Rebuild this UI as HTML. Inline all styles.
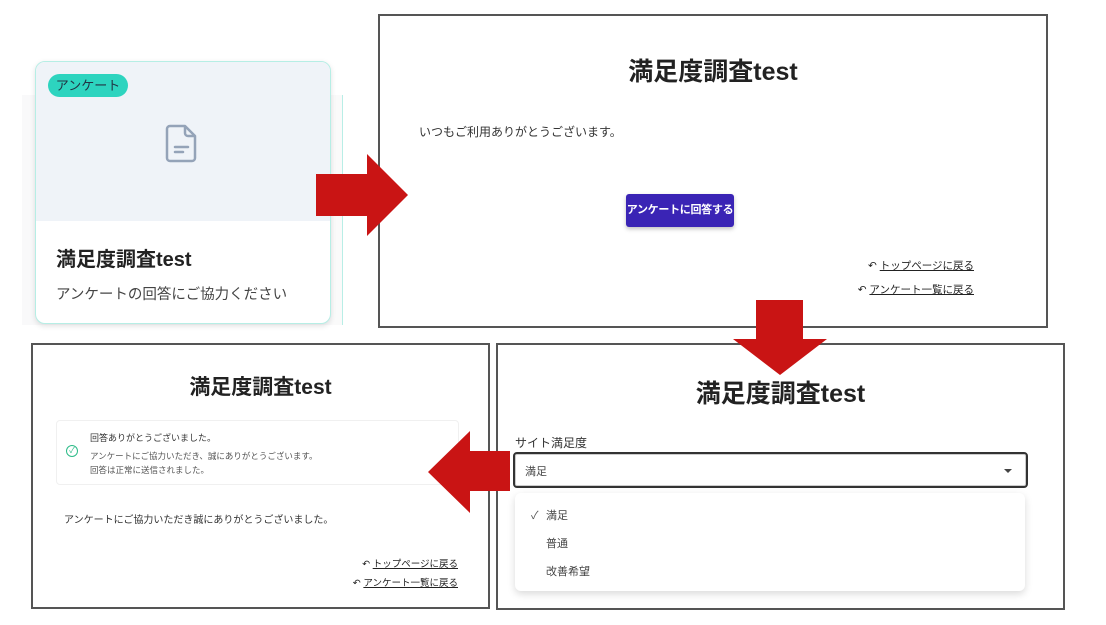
<!DOCTYPE html>
<html><head><meta charset="utf-8"><style>
body{margin:0;width:1106px;height:625px;background:#fff;position:relative;overflow:hidden;font-family:"Liberation Sans","Noto Sans CJK JP",sans-serif;color:#222}
.a{position:absolute}
.box{position:absolute;border:2px solid #555;background:#fff;box-sizing:border-box}
.lnk{position:absolute;font-size:11px;color:#222;white-space:nowrap}
.lnk u{text-decoration:underline}
</style></head><body>
<div class="a" style="left:22px;top:95px;width:321px;height:230px;background:#f9f9fa"></div>
<div class="a" style="left:332px;top:95px;width:10px;height:230px;background:#fafafa;border-right:1px solid #b8eee6"></div>
<div class="a" style="left:35px;top:61px;width:294px;height:261px;border:1px solid #b6eee5;border-radius:10px;background:#fff;overflow:hidden;box-shadow:0 2px 6px rgba(0,0,0,.12)">
  <div class="a" style="left:0;top:0;width:294px;height:159px;background:#eff3f8"></div>
  <div class="a" style="left:12px;top:12px;width:80px;height:23px;border-radius:12px;background:#2dd4bf;font-size:13px;line-height:23px;text-align:center;color:#234">アンケート</div>
  <svg class="a" style="left:128px;top:60px" width="38" height="42" viewBox="0 0 38 42"><path d="M6 4h15l10 10v22a3 3 0 0 1-3 3H6a3 3 0 0 1-3-3V7a3 3 0 0 1 3-3z" fill="none" stroke="#94a3b8" stroke-width="2.5" stroke-linejoin="round"/><path d="M21 4v7a3 3 0 0 0 3 3h7" fill="none" stroke="#94a3b8" stroke-width="2.5"/><path d="M11 25h13M11 30h8" stroke="#94a3b8" stroke-width="2.5" stroke-linecap="round"/></svg>
  <div class="a" style="left:20px;top:181px;font-size:20px;font-weight:bold;color:#222">満足度調査test</div>
  <div class="a" style="left:20px;top:221px;font-size:14.5px;color:#444">アンケートの回答にご協力ください</div>
</div>

<div class="box" style="left:378px;top:14px;width:670px;height:314px">
  <div class="a" style="left:0;top:36px;width:666px;text-align:center;font-size:25px;font-weight:bold;color:#222">満足度調査test</div>
  <div class="a" style="left:39px;top:107px;font-size:12px;color:#333">いつもご利用ありがとうございます。</div>
  <div class="a" style="left:246px;top:178px;width:108px;height:33px;background:#3a24b5;border-radius:3px;color:#fff;font-size:11px;letter-spacing:-0.3px;font-weight:bold;line-height:33px;text-align:center;white-space:nowrap;box-shadow:0 2px 4px rgba(0,0,0,.25)">アンケートに回答する</div>
  <div class="lnk" style="right:72px;top:242px;font-size:10.5px">↶ <u>トップページに戻る</u></div>
  <div class="lnk" style="right:72px;top:266px;font-size:10.5px">↶ <u>アンケート一覧に戻る</u></div>
</div>

<div class="box" style="left:31px;top:343px;width:459px;height:266px">
  <div class="a" style="left:0;top:26px;width:455px;text-align:center;font-size:21px;font-weight:bold;color:#222">満足度調査test</div>
  <div class="a" style="left:23px;top:75px;width:401px;height:63px;border:1px solid #f0f0f0;border-radius:4px"></div>
  <div class="a" style="left:33px;top:100px;width:10px;height:10px;border:1.5px solid #2dbb88;border-radius:50%;font-size:8px;line-height:10px;text-align:center;color:#2dbb88">✓</div>
  <div class="a" style="left:57px;top:86px;font-size:9px;color:#333">回答ありがとうございました。</div>
  <div class="a" style="left:57px;top:104px;font-size:8.5px;color:#555;line-height:14px">アンケートにご協力いただき、誠にありがとうございます。<br>回答は正常に送信されました。</div>
  <div class="a" style="left:31px;top:166px;font-size:10px;color:#333">アンケートにご協力いただき誠にありがとうございました。</div>
  <div class="lnk" style="right:30px;top:211px;font-size:9.5px">↶ <u>トップページに戻る</u></div>
  <div class="lnk" style="right:30px;top:230px;font-size:9.5px">↶ <u>アンケート一覧に戻る</u></div>
</div>

<div class="box" style="left:496px;top:343px;width:569px;height:267px">
  <div class="a" style="left:0;top:29px;width:565px;text-align:center;font-size:25px;font-weight:bold;color:#222">満足度調査test</div>
  <div class="a" style="left:17px;top:89px;font-size:12px;color:#333">サイト満足度</div>
  <div class="a" style="left:15px;top:107px;width:515px;height:36px;border:2px solid #333;border-radius:4px;box-sizing:border-box;box-shadow:inset 0 0 0 1px #ccc">
    <div class="a" style="left:10px;top:9px;font-size:11px;color:#444">満足</div>
    <div class="a" style="right:14px;top:15px;width:0;height:0;border-left:4px solid transparent;border-right:4px solid transparent;border-top:4px solid #444"></div>
  </div>
  <div class="a" style="left:17px;top:148px;width:510px;height:98px;background:#fff;border-radius:6px;box-shadow:0 3px 8px rgba(0,0,0,.15)">
    <div class="a" style="left:16px;top:14px;font-size:11px;color:#555">✓</div>
    <div class="a" style="left:31px;top:14px;font-size:11px;color:#444">満足</div>
    <div class="a" style="left:31px;top:42px;font-size:11px;color:#444">普通</div>
    <div class="a" style="left:31px;top:70px;font-size:11px;color:#444">改善希望</div>
  </div>
</div>

<svg class="a" style="left:0;top:0" width="1106" height="625">
  <polygon points="316,174 367,174 367,154 408,195 367,236 367,216 316,216" fill="#c91414"/>
  <polygon points="756,300 803,300 803,339 827,339 780,375 733,339 756,339" fill="#c91414"/>
  <polygon points="510,451 470,451 470,431 428,472 470,513 470,491 510,491" fill="#c91414"/>
</svg>
</body></html>
